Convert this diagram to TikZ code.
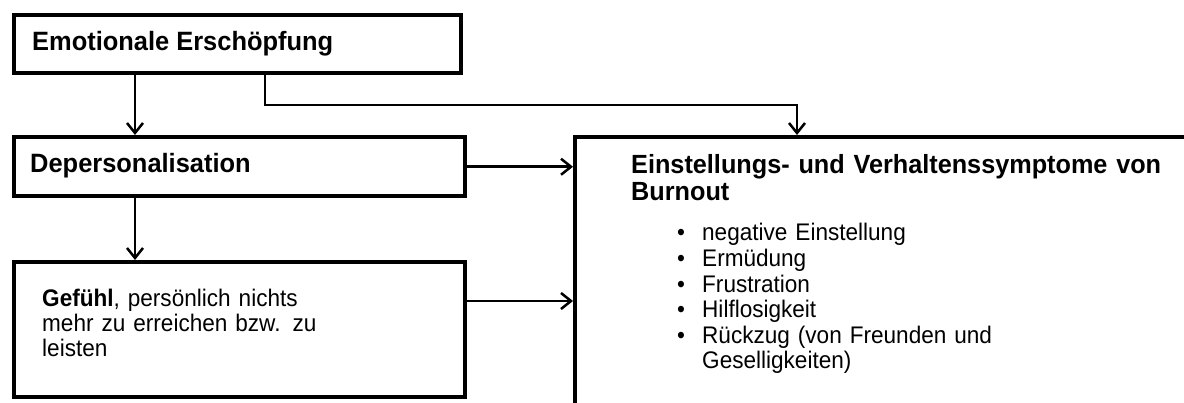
\documentclass[tikz,border=0pt]{standalone}
\usepackage{fontspec}
\setmainfont{Liberation Sans}
\newfontfamily\bodyfont[FakeStretch=0.94, WordSpace=1.9]{Liberation Sans}
\newfontfamily\headfont[FakeStretch=0.96]{Liberation Sans}
\usetikzlibrary{arrows.meta}
\begin{document}
\begin{tikzpicture}[x=1pt,y=-1pt,
  box/.style={draw=black, line width=4pt, rectangle, inner sep=0pt},
  conn/.style={draw=black, line width=2.5pt, -{Straight Barb[length=10pt,width=16pt,line width=2.5pt]}},
  headtxt/.style={anchor=base west, inner sep=0pt, font=\headfont\fontsize{26.5}{30}\selectfont\bfseries},
  bodytxt/.style={anchor=base west, inner sep=0pt, align=left}
]
\useasboundingbox (0,0) rectangle (1184,403);
\clip (0,0) rectangle (1184,403);
\fill[white] (0,0) rectangle (1184,403);

% boxes
\node[box, minimum width=447pt, minimum height=58.5pt] (emo) at (237.5,44.25) {};
\node[box, minimum width=451pt, minimum height=59.5pt] (dep) at (239.5,166.75) {};
\node[box, minimum width=451pt, minimum height=135pt] (gef) at (239.5,329.5) {};
\node[box, minimum width=675pt, minimum height=333pt] (sym) at (912.5,303.5) {};

% texts
\node[headtxt] (emot) at (32,51) {Emotionale Erschöpfung};
\node[headtxt] (dept) at (30,173) {Depersonalisation};
\node[bodytxt, text width=420pt, font=\bodyfont\fontsize{24}{24.8}\selectfont] (geft) at (42,307)
  {\textbf{Gefühl}, persönlich nichts\\mehr zu erreichen bzw. zu\\leisten};
\node[anchor=base west, inner sep=0pt, text width=590pt, align=left,
      font=\headfont\fontsize{26.3}{26.5}\selectfont\bfseries] (symt) at (631,174)
      {Einstellungs- und Verhaltenssymptome von\\Burnout};
\node[bodytxt, text width=480pt, font=\bodyfont\fontsize{24}{25.6}\selectfont] (list) at (677,241)
  {\makebox[25pt][l]{\textbullet}negative Einstellung\\
   \makebox[25pt][l]{\textbullet}Ermüdung\\
   \makebox[25pt][l]{\textbullet}Frustration\\
   \makebox[25pt][l]{\textbullet}Hilflosigkeit\\
   \makebox[25pt][l]{\textbullet}Rückzug (von Freunden und\\
   \makebox[25pt][l]{}Geselligkeiten)};

% connector coordinates
\coordinate (cA) at (135,0);
\coordinate (cB) at (265,0);
\coordinate (cK) at (797,105);
\coordinate (cG) at (0,301);

% connectors
\draw[conn] (emo.south -| cA) -- (dep.north -| cA);
\draw[conn] (dep.south -| cA) -- (gef.north -| cA);
\draw[conn] (emo.south -| cB) |- (cK) -- (sym.north -| cK);
\draw[conn] (dep.east) -- (sym.west |- dep.east);
\draw[conn] (gef.east |- cG) -- (sym.west |- cG);
\end{tikzpicture}
\end{document}
